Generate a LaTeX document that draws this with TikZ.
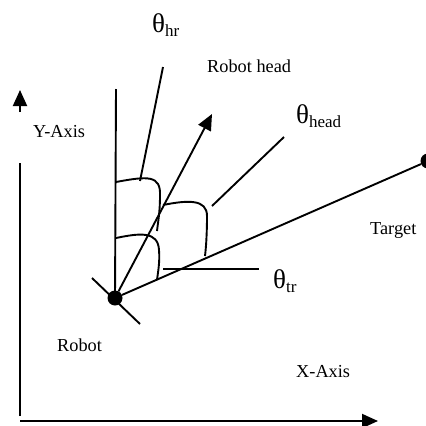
\documentclass[tikz,border=0pt]{standalone}
\usepackage{fontspec}
\setmainfont{Liberation Serif}
\usetikzlibrary{arrows.meta}
\newcommand{\anglabel}[1]{{\fontsize{27}{27}\selectfont θ}\raisebox{-4pt}{\fontsize{17}{17}\selectfont #1}}

\begin{document}
\begin{tikzpicture}[x=1pt, y=-1pt]
    % Define styles
    \tikzstyle{line} = [draw, line width=1.9pt]
    \tikzstyle{arrow} = [line, -{Triangle[length=16pt, width=14pt]}]
    \tikzstyle{blob} = [circle, fill=black, inner sep=0pt, minimum size=15pt]
    \tikzstyle{lbl} = [inner sep=0pt, anchor=west, font=\fontsize{18.3}{20}\selectfont]
    \tikzstyle{anglbl} = [inner sep=0pt, anchor=base west]

    \useasboundingbox (0,0) rectangle (426,426);

    % Place nodes
    \node [blob] (robot) at (115,298) {};
    \node [blob] (target) at (428,161) {};
    \node [lbl] (ylbl) at (33,132) {Y-Axis};
    \node [lbl] (xlbl) at (296,372) {X-Axis};
    \node [lbl] (robotlbl) at (57,345) {Robot};
    \node [lbl] (targetlbl) at (370,230) {Target};
    \node [lbl] (headlbl) at (207,66) {Robot head};
    \node [anglbl] (thetahr) at (152,32) {\anglabel{hr}};
    \node [anglbl] (thetahead) at (296,123) {\anglabel{head}};
    \node [anglbl] (thetatr) at (273,288) {\anglabel{tr}};

    % Free ends
    \coordinate (ytop) at (20,90);
    \coordinate (ymid) at (20,112);
    \coordinate (yup) at (20,163);
    \coordinate (ybot) at (20,416);
    \coordinate (origin) at (20,421);
    \coordinate (xend) at (378,421);
    \coordinate (vtop) at (116,89);
    \coordinate (headtip) at (212,114);
    \coordinate (hrstart) at (163,67);
    \coordinate (hrend) at (140,181);
    \coordinate (headstart) at (284,137);
    \coordinate (headend) at (212,206);
    \coordinate (trstart) at (163,269);
    \coordinate (trend) at (259,269);
    \coordinate (bodya) at (92,278);
    \coordinate (bodyb) at (140,324);

    % Axes
    \path [line] (ybot) -- (yup);
    \path [arrow] (ymid) -- (ytop);
    \path [arrow] (origin) -- (xend);

    % Robot
    \path [line] (bodya) -- (bodyb);
    \path [line] (robot.center) -- (vtop);
    \path [arrow] (robot) -- (headtip);
    \path [line] (robot) -- (target);

    % Angle arcs
    \path [line] (116,182) .. controls (148,176) and (161,175) .. (160,196)
        .. controls (160,212) and (158,222) .. (157,231);
    \path [line] (116,238) .. controls (140,233) and (158,231) .. (159,250)
        .. controls (160,262) and (158,272) .. (157,280);
    \path [line] (163,205) .. controls (188,200) and (207,199) .. (207,216)
        .. controls (207,234) and (206,248) .. (205,256);

    % Pointers to the angle labels
    \path [line] (hrstart) -- (hrend);
    \path [line] (headstart) -- (headend);
    \path [line] (trstart) -- (trend);
\end{tikzpicture}
\end{document}
